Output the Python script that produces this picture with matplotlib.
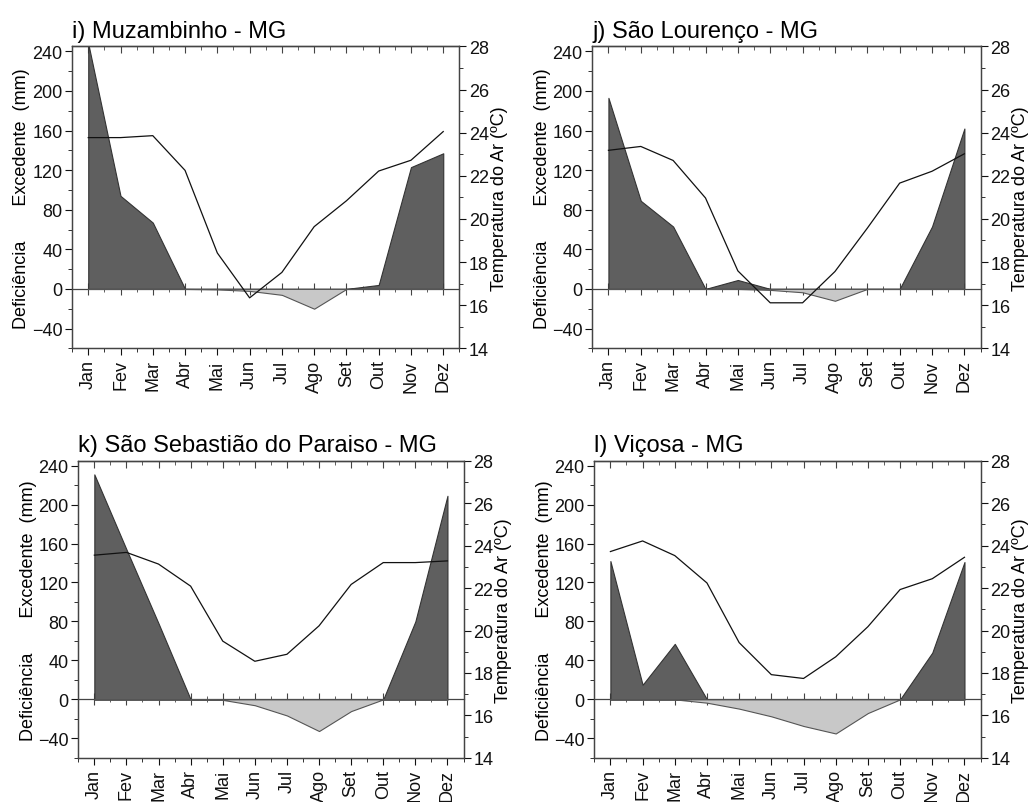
import numpy as np
import matplotlib
matplotlib.use("Agg")
import matplotlib.pyplot as plt
from matplotlib.ticker import MultipleLocator, FixedLocator

plt.rcParams['font.family'] = ['Liberation Sans', 'DejaVu Sans']

meses = ["Jan", "Fev", "Mar", "Abr", "Mai", "Jun", "Jul", "Ago", "Set", "Out", "Nov", "Dez"]

# i) Muzambinho
muz_exc = [248, 94, 67, 0, 0, 0, 0, 0, 0, 4, 123, 137]
muz_def = [0, 0, 0, 0, -0.5, -2, -6, -20, 0, 0, 0, 0]
muz_temp = [23.77, 23.77, 23.86, 22.25, 18.42, 16.34, 17.52, 19.64, 20.84, 22.22, 22.72, 24.05]

# j) São Lourenço
slo_exc = [193, 89, 63, 0, 9, 0, 0, 0, 0, 0, 63, 162]
slo_def = [0, 0, 0, 0, 0, -1, -3.4, -12, 0, 0, 0, 0]
slo_temp = [23.18, 23.36, 22.71, 20.97, 17.59, 16.11, 16.11, 17.56, 19.57, 21.66, 22.21, 23.02]

# k) São Sebastião do Paraiso
ssp_exc = [231, 154, 78, 0, 0, 0, 0, 0, 0, 0, 80, 209]
ssp_def = [0, 0, 0, 0, -0.5, -6, -16.5, -32.5, -12, 0, 0, 0]
ssp_temp = [23.55, 23.68, 23.13, 22.09, 19.5, 18.55, 18.88, 20.22, 22.17, 23.2, 23.2, 23.28]

# l) Viçosa
vic_exc = [142, 15, 57, 0, 0, 0, 0, 0, 0, 0, 48, 141]
vic_def = [0, 0, 0, -3.4, -9.5, -17.4, -27.3, -35, -14, 0, 0, 0]
vic_temp = [23.72, 24.22, 23.53, 22.24, 19.43, 17.92, 17.74, 18.76, 20.18, 21.93, 22.44, 23.45]

paineis = [
    ("i) Muzambinho - MG", muz_exc, muz_def, muz_temp, [0.070, 0.565, 0.376, 0.376]),
    ("j) São Lourenço - MG", slo_exc, slo_def, slo_temp, [0.575, 0.565, 0.377, 0.376]),
    ("k) São Sebastião do Paraiso - MG", ssp_exc, ssp_def, ssp_temp, [0.076, 0.055, 0.374, 0.370]),
    ("l) Viçosa - MG", vic_exc, vic_def, vic_temp, [0.577, 0.055, 0.375, 0.370]),
]

ymin, ymax = -60, 245
cor_eixo = "#444444"
meios = np.arange(-0.5, 12, 0.5)

fig = plt.figure(figsize=(10.3, 8.03), dpi=100)

for titulo, exc, defi, temp, pos in paineis:
    x = np.arange(12)
    ax = fig.add_axes(pos)
    ax.fill_between(x, 0, exc, facecolor="#5f5f5f", edgecolor="#333333", linewidth=0.8)
    ax.fill_between(x, defi, 0, facecolor="#c8c8c8", edgecolor="#555555", linewidth=0.8)
    ax.set_xlim(-0.5, 11.5)
    ax.set_ylim(ymin, ymax)
    ax.set_xticks(x)
    ax.set_xticklabels(meses, rotation=90, fontsize=13)
    ax.xaxis.set_minor_locator(FixedLocator(meios))
    ax.set_yticks(np.arange(-40, 241, 40))
    ax.yaxis.set_minor_locator(MultipleLocator(20))
    ax.tick_params(axis='y', which='both', direction='out', labelsize=13, colors='#111111', pad=2)
    ax.tick_params(axis='y', which='major', length=5)
    ax.tick_params(axis='y', which='minor', length=3)
    ax.tick_params(axis='x', which='both', direction='out', top=False, labelsize=13, pad=3, colors='#111111')
    ax.tick_params(axis='x', which='major', length=5)
    ax.tick_params(axis='x', which='minor', length=3)
    ax.set_ylabel("Deficiência       Excedente  (mm)", fontsize=13, labelpad=1)
    for s in ax.spines.values():
        s.set_color(cor_eixo)
        s.set_linewidth(0.9)

    # marcas internas no topo
    topo = ax.secondary_xaxis('top')
    topo.set_xticks(x)
    topo.xaxis.set_minor_locator(FixedLocator(meios))
    topo.tick_params(axis='x', which='both', direction='in', labeltop=False, colors=cor_eixo)
    topo.tick_params(axis='x', which='major', length=5)
    topo.tick_params(axis='x', which='minor', length=3)
    topo.spines['top'].set_color(cor_eixo)
    topo.spines['top'].set_linewidth(0.9)

    # linha do zero com marcas
    zero = ax.secondary_xaxis((0 - ymin) / (ymax - ymin))
    zero.set_xticks(x)
    zero.xaxis.set_minor_locator(FixedLocator(meios))
    zero.tick_params(axis='x', which='both', direction='inout', labelbottom=False, colors=cor_eixo)
    zero.tick_params(axis='x', which='major', length=8)
    zero.tick_params(axis='x', which='minor', length=5)
    zero.spines['bottom'].set_color(cor_eixo)
    zero.spines['bottom'].set_linewidth(0.9)

    ax2 = ax.twinx()
    ax2.plot(x, temp, color="#111111", linewidth=0.9)
    ax2.set_ylim(14, 28)
    ax2.set_yticks(np.arange(14, 29, 2))
    ax2.yaxis.set_minor_locator(MultipleLocator(1))
    ax2.tick_params(axis='y', which='both', direction='out', labelsize=13, colors='#111111', pad=2)
    ax2.tick_params(axis='y', which='major', length=5)
    ax2.tick_params(axis='y', which='minor', length=3)
    ax2.set_ylabel("Temperatura do Ar (ºC)", fontsize=13, labelpad=1)
    for s in ax2.spines.values():
        s.set_color(cor_eixo)
        s.set_linewidth(0.9)

    ax.set_title(titulo, loc='left', fontsize=17, pad=7)

plt.savefig("out.png", dpi=100)
